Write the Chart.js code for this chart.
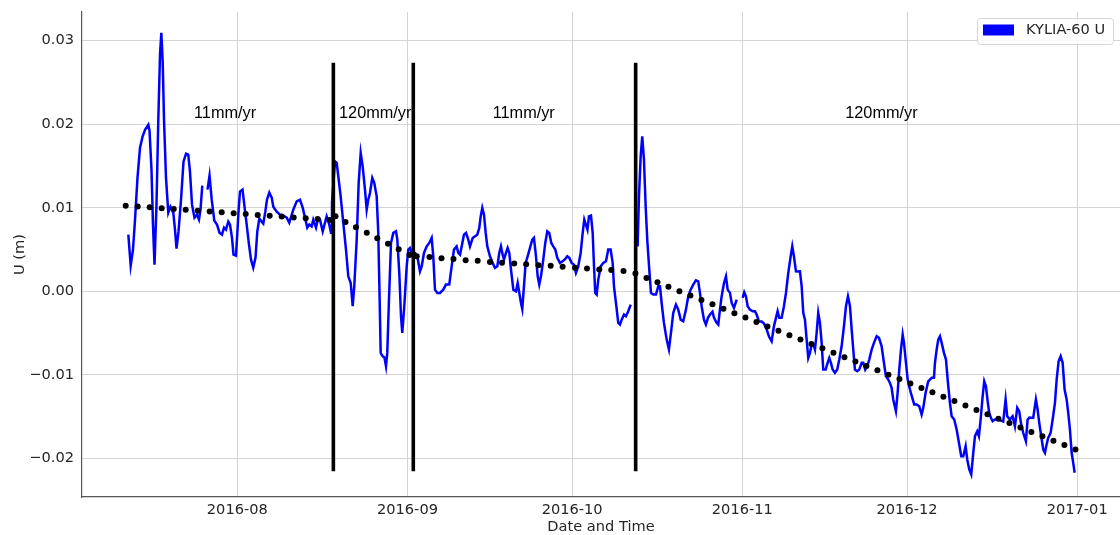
<!DOCTYPE html>
<html lang="en">
<head>
<meta charset="UTF-8">
<title>KYLIA-60 U</title>
<script src="https://cdn.jsdelivr.net/npm/chart.js"></script>
<style>
  html, body { margin: 0; padding: 0; background: #fff; }
  #wrap { width: 1120px; height: 535px; }
</style>
</head>
<body>
<div id="wrap"><canvas id="uChart" width="1120" height="535"></canvas></div>
<script>
// x values are days since 2016-07-01 00:00
const monthDays = [31, 62, 92, 123, 153, 184];
const monthLabels = ['2016-08', '2016-09', '2016-10', '2016-11', '2016-12', '2017-01'];
const yTicks = [-0.02, -0.01, 0, 0.01, 0.02, 0.03];
const yTickLabels = ['\u22120.02', '\u22120.01', '0.00', '0.01', '0.02', '0.03'];

// KYLIA-60 vertical displacement (m), null = data gap
const uDays = [
  11.15, 11.58, 12.00, 12.37, 12.82, 13.28, 13.73, 14.19, 14.79, 15.01,
  15.37, 15.64, 15.92, 16.28, 16.61, 16.92, 17.16, 17.41, 17.65, 18.01,
  18.43, 18.83, 19.34, 19.65, 19.93, 20.29, 20.75, 21.20, 21.66, 22.07,
  22.38, 22.75, 23.20, 23.66, 24.02, 24.30, 24.62, 25.00, 25.57, 25.94,
  26.34, 26.81, 27.30, 27.76, 28.21, 28.58, 28.94, 29.36, 29.67, 30.03,
  30.31, 30.76, 31.04, 31.22, 31.49, 31.95, 32.27, 32.71, 33.13, 33.50,
  33.91, 34.32, 34.64, 35.01, 35.44, 35.74, 36.10, 36.41, 36.83, 37.27,
  37.56, 38.18, 38.78, 39.38, 40.00, 40.47, 41.20, 41.82, 42.42, 42.91,
  43.33, 43.75, 44.12, 44.55, 44.84, 45.34, 45.65, 46.06, 46.56, 46.98,
  47.28, 47.76, 48.07, 48.25, 48.80, 49.11, 49.40, 49.83, 50.31, 50.80,
  51.22, 51.66, 52.02, 52.31, 52.75, 53.11, 53.48, 53.84, 54.26, 54.57,
  54.86, 55.17, 55.59, 55.95, 56.39, 56.68, 56.87, 57.12, 57.49, 57.81,
  58.09, 58.32, 58.63, 59.00, 59.42, 59.91, 60.15, 60.51, 60.82, 61.05,
  61.42, 61.86, 62.15, 62.46, 62.77, 63.37, 63.79, 64.28, 64.59, 65.01,
  65.50, 65.97, 66.41, 66.70, 67.01, 67.43, 67.92, 68.52, 69.01, 69.61,
  70.05, 70.47, 70.96, 71.26, 71.57, 71.88, 72.29, 72.66, 73.08, 73.39,
  73.88, 74.30, 74.72, 75.08, 75.34, 75.63, 75.94, 76.25, 76.54, 77.03,
  77.52, 77.94, 78.36, 78.72, 79.03, 79.34, 79.58, 79.94, 80.25, 80.55,
  80.86, 81.28, 81.77, 82.08, 82.37, 82.68, 82.91, 83.22, 83.53, 83.89,
  84.32, 84.74, 85.04, 85.41, 85.72, 86.01, 86.32, 86.74, 87.10, 87.47,
  87.83, 88.20, 88.56, 88.93, 89.29, 89.78, 90.27, 90.75, 91.11, 91.48,
  91.91, 92.33, 92.69, 93.11, 93.55, 93.92, 94.21, 94.79, 95.06, 95.43,
  95.74, 95.98, 96.21, 96.47, 96.76, 97.20, 97.67, 98.16, 98.58, 99.01,
  99.38, 99.62, 99.98, 100.40, 100.71, 101.02, 101.44, 101.80, 102.22, 102.66,
  103.30, 103.93, 104.17, 104.48, 104.77, 105.08, 105.39, 105.68, 106.05, 106.36,
  106.78, 107.27, 107.69, 108.00, 108.30, 108.72, 109.22, 109.63, 110.00, 110.42,
  110.91, 111.33, 111.77, 112.24, 112.73, 113.15, 113.59, 114.06, 114.55, 114.97,
  115.28, 115.59, 116.01, 116.37, 116.74, 117.10, 117.56, 117.83, 118.29, 118.62,
  118.92, 119.23, 119.66, 120.02, 120.33, 120.75, 121.06, 121.48, 121.97, 122.50,
  123.06, 123.35, 123.66, 123.97, 124.39, 124.88, 125.30, 125.61, 126.03, 126.52,
  126.94, 127.43, 127.90, 128.34, 128.76, 129.13, 129.43, 129.73, 130.16, 130.58,
  130.95, 131.37, 131.81, 132.10, 132.40, 132.77, 133.13, 133.50, 133.81, 134.10,
  134.41, 134.72, 135.01, 135.32, 135.63, 135.96, 136.23, 136.54, 136.83, 137.14,
  137.45, 137.74, 138.18, 138.54, 138.84, 139.14, 139.45, 139.87, 140.29, 140.66,
  141.09, 141.51, 141.88, 142.24, 142.61, 142.92, 143.21, 143.51, 143.93, 144.30,
  144.74, 145.03, 145.39, 145.76, 146.12, 146.56, 146.98, 147.47, 147.89, 148.38,
  148.80, 149.16, 149.58, 149.89, 150.20, 150.49, 150.98, 151.29, 151.59, 151.90,
  152.21, 152.45, 152.81, 153.12, 153.54, 153.96, 154.32, 154.75, 155.23, 155.66,
  155.96, 156.39, 156.87, 157.49, 157.91, 158.09, 158.40, 158.69, 159.00, 159.31,
  159.73, 160.10, 160.46, 160.82, 161.13, 161.60, 162.04, 162.46, 162.88, 163.25,
  163.68, 163.97, 164.34, 164.70, 165.07, 165.38, 165.79, 166.10, 166.41, 166.78,
  167.07, 167.38, 167.69, 167.98, 168.29, 168.60, 169.02, 169.62, 170.53, 170.96,
  171.25, 171.75, 172.24, 172.66, 173.08, 173.44, 173.75, 174.17, 174.66, 174.97,
  175.30, 175.99, 176.48, 176.79, 177.09, 177.40, 177.82, 178.13, 178.43, 178.72,
  179.16, 179.53, 179.95, 180.26, 180.62, 180.99, 181.35, 181.71, 182.08, 182.37,
  182.68, 182.99, 183.28, 183.54
];
const uValues = [
  0.00678, 0.00307, 0.00499, 0.00858, 0.01360, 0.01719, 0.01850, 0.01934, 0.01994, 0.01922,
  0.01456, 0.00798, 0.00319, 0.01037, 0.02054, 0.02831, 0.03095, 0.02748, 0.02054, 0.01360,
  0.00941, 0.01013, 0.00941, 0.00738, 0.00511, 0.00714, 0.01097, 0.01551, 0.01647, 0.01635,
  0.01432, 0.01037, 0.00882, 0.00917, 0.00858, 0.00977, 0.01264, null, 0.01217, 0.01384,
  0.01097, 0.00846, 0.00798, 0.00702, 0.00678, 0.00762, 0.00738, 0.00834, 0.00798, 0.00642,
  0.00439, 0.00427, 0.00738, 0.00953, 0.01193, 0.01217, 0.01037, 0.00798, 0.00559, 0.00379,
  0.00284, 0.00403, 0.00714, 0.00870, 0.00834, 0.00810, 0.00953, 0.01097, 0.01181, 0.01121,
  0.01013, 0.00953, 0.00917, 0.00906, 0.00882, 0.00822, 0.00977, 0.01077, 0.01097, 0.01001,
  0.00882, 0.00762, 0.00798, 0.00778, 0.00858, 0.00762, 0.00858, 0.00858, 0.00718, 0.00822,
  0.00897, 0.00798, 0.00702, 0.01061, 0.01555, 0.01536, 0.01376, 0.01136, 0.00818, 0.00499,
  0.00179, 0.00100, -0.00179, 0.00060, 0.00618, 0.01297, 0.01656, 0.01495, 0.01217, 0.00977,
  0.01097, 0.01177, 0.01357, 0.01297, 0.01136, 0.00699, 0.00100, -0.00737, -0.00778, -0.00793,
  -0.00897, -0.00737, -0.00099, 0.00579, 0.00699, 0.00718, 0.00618, 0.00220, -0.00299, -0.00498,
  -0.00179, 0.00299, 0.00499, 0.00519, 0.00459, 0.00459, 0.00419, 0.00239, 0.00299, 0.00459,
  0.00538, 0.00579, 0.00639, 0.00419, 0.00020, -0.00019, -0.00019, 0.00020, 0.00080, 0.00080,
  0.00299, 0.00499, 0.00538, 0.00459, 0.00439, 0.00538, 0.00678, 0.00699, 0.00618, 0.00538,
  0.00639, 0.00658, 0.00678, 0.00758, 0.00897, 0.00998, 0.00917, 0.00699, 0.00538, 0.00419,
  0.00340, 0.00280, 0.00299, 0.00459, 0.00538, 0.00439, 0.00379, 0.00459, 0.00519, 0.00459,
  0.00260, 0.00020, 0.00000, 0.00100, -0.00019, -0.00139, -0.00211, 0.00060, 0.00340, 0.00419,
  0.00519, 0.00618, 0.00639, 0.00419, 0.00179, 0.00080, 0.00179, 0.00379, 0.00579, 0.00718,
  0.00699, 0.00579, 0.00538, 0.00499, 0.00400, 0.00340, 0.00359, 0.00388, 0.00419, 0.00400,
  0.00340, 0.00319, 0.00220, 0.00299, 0.00459, 0.00699, 0.00858, 0.00738, 0.00897, 0.00906,
  0.00699, 0.00299, -0.00019, -0.00039, 0.00140, 0.00299, 0.00340, 0.00359, 0.00499, 0.00499,
  0.00340, 0.00060, -0.00139, -0.00378, -0.00398, -0.00339, -0.00279, -0.00299, -0.00239, -0.00159,
  null, 0.00538, 0.01136, 0.01615, 0.01854, 0.01575, 0.01017, 0.00618, 0.00260, -0.00019,
  -0.00039, -0.00039, 0.00060, 0.00060, -0.00139, -0.00378, -0.00578, -0.00697, -0.00498, -0.00258,
  -0.00159, -0.00219, -0.00339, -0.00359, -0.00219, -0.00060, 0.00020, 0.00080, 0.00132, 0.00120,
  -0.00019, -0.00179, -0.00339, -0.00398, -0.00318, -0.00279, -0.00243, -0.00315, -0.00374, -0.00398,
  -0.00219, -0.00060, 0.00100, 0.00179, 0.00020, -0.00019, -0.00139, -0.00199, -0.00099, null,
  -0.00079, -0.00012, -0.00060, -0.00179, -0.00219, -0.00239, -0.00239, -0.00279, -0.00359, -0.00362,
  -0.00386, -0.00458, -0.00548, -0.00598, -0.00419, -0.00318, -0.00239, -0.00318, -0.00318, -0.00179,
  -0.00019, 0.00220, 0.00419, 0.00538, 0.00419, 0.00239, 0.00236, 0.00239, 0.00060, -0.00258,
  -0.00339, -0.00578, -0.00797, -0.00737, -0.00638, -0.00638, -0.00697, -0.00498, -0.00258, -0.00378,
  -0.00618, -0.00937, -0.00937, -0.00856, -0.00797, -0.00856, -0.00937, -0.00976, -0.00937, -0.00817,
  -0.00658, -0.00419, -0.00179, -0.00060, -0.00179, -0.00458, -0.00697, -0.00937, -0.00957, -0.00937,
  -0.00856, -0.00856, -0.00937, -0.00897, -0.00817, -0.00697, -0.00617, -0.00538, -0.00557, -0.00658,
  -0.00856, -0.01017, -0.01056, -0.01096, -0.01156, -0.01295, -0.01435, -0.01215, -0.00937, -0.00697,
  -0.00518, -0.00617, -0.00856, -0.01056, -0.01176, -0.01275, -0.01355, -0.01355, -0.01376, -0.01475,
  -0.01395, -0.01215, -0.01077, -0.01036, -0.01036, -0.00856, -0.00697, -0.00578, -0.00538, -0.00617,
  -0.00737, -0.00817, -0.01096, -0.01335, -0.01495, -0.01535, -0.01654, -0.01813, -0.01974, -0.01974,
  -0.01854, -0.02013, -0.02133, -0.02193, -0.01933, -0.01734, -0.01675, -0.01734, -0.01535, -0.01256,
  -0.01077, -0.01136, -0.01316, -0.01455, -0.01514, -0.01555, -0.01535, -0.01535, -0.01559, -0.01295,
  -0.01495, -0.01535, -0.01495, -0.01615, -0.01395, -0.01435, -0.01574, -0.01694, -0.01794, -0.01535,
  -0.01511, -0.01515, -0.01295, -0.01415, -0.01574, -0.01714, -0.01894, -0.01933, -0.01834, -0.01754,
  -0.01694, -0.01535, -0.01335, -0.01056, -0.00837, -0.00778, -0.00856, -0.01176, -0.01295, -0.01455,
  -0.01654, -0.01933, -0.02053, -0.02172
];

// piecewise trend points (black dots)
const fitDays = [
  10.67, 12.86, 15.04, 17.23, 19.42, 21.60, 23.79, 25.97, 28.16, 30.34,
  32.53, 34.72, 36.90, 39.09, 41.27, 43.46, 45.65, 47.83,
  48.89, 50.71, 52.62, 54.59, 56.50, 58.45, 60.40, 62.37,
  63.68, 66.01, 68.20, 70.38, 72.60, 74.79, 77.03, 79.22, 81.44, 83.62,
  85.86, 88.09, 90.27, 92.51, 94.70, 96.94, 99.12, 101.35,
  103.53, 105.54, 107.54, 109.54, 111.54, 113.55, 115.55, 117.56, 119.56, 121.56,
  123.57, 125.57, 127.57, 129.58, 131.58, 133.59, 135.59, 137.59, 139.60, 141.60,
  143.60, 145.61, 147.61, 149.62, 151.62, 153.62, 155.63, 157.63, 159.63, 161.64,
  163.64, 165.65, 167.65, 169.65, 171.66, 173.66, 175.66, 177.67, 179.67, 181.67,
  183.68
];
const fitValues = [
  0.01025, 0.01016, 0.01005, 0.00995, 0.00984, 0.00975, 0.00965, 0.00955, 0.00945, 0.00934,
  0.00925, 0.00914, 0.00904, 0.00895, 0.00884, 0.00874, 0.00864, 0.00854,
  0.00897, 0.00830, 0.00766, 0.00700, 0.00634, 0.00568, 0.00502, 0.00435,
  0.00419, 0.00411, 0.00397, 0.00388, 0.00373, 0.00365, 0.00352, 0.00343, 0.00334, 0.00325,
  0.00313, 0.00305, 0.00293, 0.00283, 0.00272, 0.00262, 0.00254, 0.00244,
  0.00212, 0.00159, 0.00107, 0.00054, 0.00002, -0.00051, -0.00104, -0.00156, -0.00209, -0.00262,
  -0.00314, -0.00367, -0.00420, -0.00472, -0.00525, -0.00577, -0.00630, -0.00683, -0.00735, -0.00788,
  -0.00841, -0.00893, -0.00946, -0.00998, -0.01051, -0.01104, -0.01156, -0.01209, -0.01262, -0.01314,
  -0.01367, -0.01420, -0.01472, -0.01525, -0.01577, -0.01630, -0.01683, -0.01735, -0.01788, -0.01841,
  -0.01893
];

// rate change markers
const breakDays = [48.50, 63.06, 103.57];
const breakBottom = -0.02153;
const breakTop = 0.02736;

const rateLabels = ['11mm/yr', '120mm/yr', '11mm/yr', '120mm/yr'];
const rateDays = [23.11, 49.53, 77.52, 141.75];
const rateLevel = 0.0207;

const xMin = 2.71, xMax = 191.8;
const yMin = -0.02462, yMax = 0.03343;

const tickFont = { family: 'DejaVu Sans', size: 14.6 };
const titleFont = { family: 'DejaVu Sans', size: 14.6, lineHeight: 1.0 };
const textColor = '#262626';

const uData = uDays.map((d, i) => ({ x: d, y: uValues[i] }));
const fitData = fitDays.map((d, i) => ({ x: d, y: fitValues[i] }));

const datasets = breakDays.map(d => ({
  label: 'break',
  data: [{ x: d, y: breakBottom }, { x: d, y: breakTop }],
  borderColor: '#000',
  borderWidth: 3.6,
  pointRadius: 0,
  order: 0
}));
datasets.push({
  label: 'trend',
  data: fitData,
  showLine: false,
  pointRadius: 3,
  pointBackgroundColor: '#000',
  pointBorderWidth: 0,
  order: 1
});
datasets.push({
  label: 'KYLIA-60 U',
  data: uData,
  borderColor: '#0000ff',
  backgroundColor: '#0000ff',
  borderWidth: 2.5,
  pointRadius: 0,
  tension: 0,
  spanGaps: false,
  order: 2
});

const overlay = {
  id: 'overlay',
  afterDraw(chart) {
    const ctx = chart.ctx;
    const xs = chart.scales.x, ys = chart.scales.y;
    const area = chart.chartArea;
    ctx.save();
    // rate labels
    ctx.font = '16.3px "Liberation Sans", Arial, sans-serif';
    ctx.fillStyle = '#000';
    ctx.textAlign = 'left';
    ctx.textBaseline = 'alphabetic';
    rateLabels.forEach((t, i) => {
      ctx.fillText(t, xs.getPixelForValue(rateDays[i]), ys.getPixelForValue(rateLevel));
    });
    // legend
    const ds = chart.data.datasets[chart.data.datasets.length - 1];
    const w = 136, h = 26;
    const lx = area.right - 7 - w, ly = area.top + 6;
    ctx.beginPath();
    ctx.roundRect(lx + 0.5, ly + 0.5, w, h, 3);
    ctx.fillStyle = 'rgba(255,255,255,0.8)';
    ctx.fill();
    ctx.strokeStyle = '#d6d6d6';
    ctx.lineWidth = 1;
    ctx.stroke();
    ctx.fillStyle = ds.borderColor;
    ctx.fillRect(lx + 6, ly + 6.5, 31, 11);
    ctx.fillStyle = textColor;
    ctx.font = '14.6px "DejaVu Sans"';
    ctx.textBaseline = 'middle';
    ctx.fillText(ds.label, lx + 49, ly + 12.5);
    ctx.restore();
  }
};

new Chart(document.getElementById('uChart'), {
  type: 'line',
  data: { datasets: datasets },
  options: {
    responsive: false,
    animation: false,
    devicePixelRatio: 1,
    layout: { autoPadding: false, padding: { top: 12, right: 0, bottom: 0, left: 0 } },
    plugins: { legend: { display: false }, tooltip: { enabled: false } },
    scales: {
      x: {
        type: 'linear',
        min: xMin,
        max: xMax,
        afterBuildTicks: s => { s.ticks = monthDays.map(v => ({ value: v })); },
        afterFit: s => { s.height = 38; s.paddingLeft = 0; s.paddingRight = 0; },
        grid: { color: '#d4d4d4', lineWidth: 1, drawTicks: false },
        border: { display: true, color: '#555', width: 1.2 },
        ticks: {
          padding: 4, color: textColor, font: tickFont,
          maxRotation: 0, autoSkip: false,
          callback: (v, i) => monthLabels[i]
        },
        title: {
          display: true, text: 'Date and Time', color: textColor,
          font: titleFont, padding: { top: 0, bottom: 0 }
        }
      },
      y: {
        type: 'linear',
        min: yMin,
        max: yMax,
        afterBuildTicks: s => { s.ticks = yTicks.map(v => ({ value: v })); },
        afterFit: s => { s.width = 82; s.paddingTop = 0; s.paddingBottom = 0; },
        grid: { color: '#d4d4d4', lineWidth: 1, drawTicks: false },
        border: { display: true, color: '#555', width: 1.2 },
        ticks: {
          padding: 8, color: textColor, font: tickFont,
          callback: (v, i) => yTickLabels[i]
        },
        title: {
          display: true, text: 'U (m)', color: textColor,
          font: tickFont, padding: { top: 11, bottom: 0 }
        }
      }
    }
  },
  plugins: [overlay]
});
</script>
</body>
</html>
